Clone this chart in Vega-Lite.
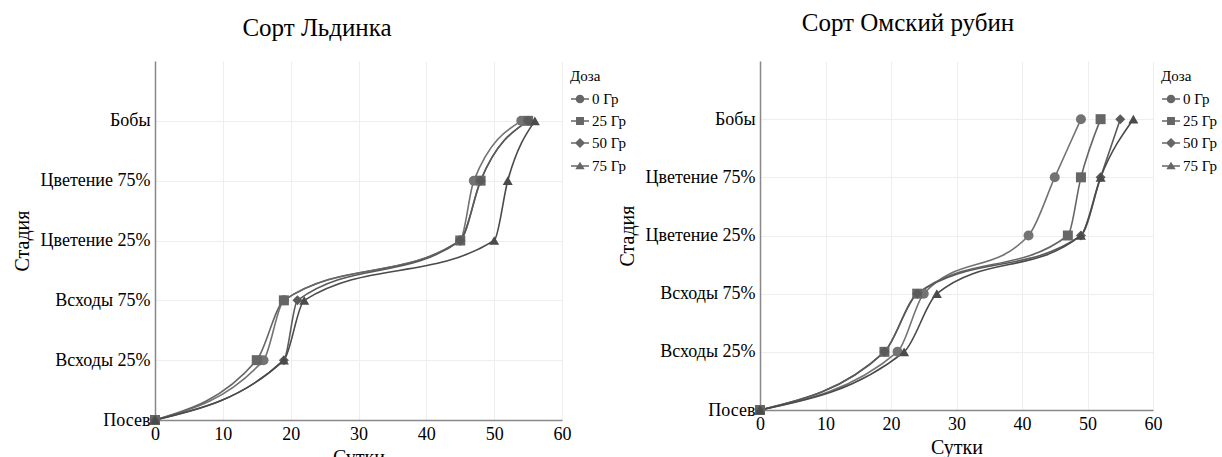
{
  "$schema": "https://vega.github.io/schema/vega-lite/v6.json",
  "padding": {"left": 12, "top": 11, "right": 0, "bottom": 0},
  "background": "white",
  "config": {
    "font": "Liberation Serif",
    "view": {"stroke": null},
    "title": {"font": "Liberation Serif", "fontSize": 25, "fontWeight": "normal", "color": "#000", "offset": 20, "frame": "bounds", "anchor": "middle"},
    "axis": {"labelFont": "Liberation Serif", "titleFont": "Liberation Serif", "labelFontSize": 18, "titleFontSize": 20, "titleFontWeight": "normal", "labelColor": "#000", "titleColor": "#000", "ticks": false, "domainColor": "#888", "domainWidth": 1.5, "gridColor": "#eeeeee", "labelPadding": 5},
    "legend": {"labelFont": "Liberation Serif", "titleFont": "Liberation Serif", "labelFontSize": 15, "titleFontSize": 15, "titleFontWeight": "normal", "labelColor": "#000", "titleColor": "#000"}
  },
  "datasets": {
    "ldinka": [
      {"dose": "0 Гр", "day": 0, "stage": 0}, {"dose": "0 Гр", "day": 16, "stage": 1}, {"dose": "0 Гр", "day": 19, "stage": 2}, {"dose": "0 Гр", "day": 45, "stage": 3}, {"dose": "0 Гр", "day": 47, "stage": 4}, {"dose": "0 Гр", "day": 54, "stage": 5},
      {"dose": "25 Гр", "day": 0, "stage": 0}, {"dose": "25 Гр", "day": 15, "stage": 1}, {"dose": "25 Гр", "day": 19, "stage": 2}, {"dose": "25 Гр", "day": 45, "stage": 3}, {"dose": "25 Гр", "day": 48, "stage": 4}, {"dose": "25 Гр", "day": 55, "stage": 5},
      {"dose": "50 Гр", "day": 0, "stage": 0}, {"dose": "50 Гр", "day": 19, "stage": 1}, {"dose": "50 Гр", "day": 21, "stage": 2}, {"dose": "50 Гр", "day": 45, "stage": 3}, {"dose": "50 Гр", "day": 48, "stage": 4}, {"dose": "50 Гр", "day": 55, "stage": 5},
      {"dose": "75 Гр", "day": 0, "stage": 0}, {"dose": "75 Гр", "day": 19, "stage": 1}, {"dose": "75 Гр", "day": 22, "stage": 2}, {"dose": "75 Гр", "day": 50, "stage": 3}, {"dose": "75 Гр", "day": 52, "stage": 4}, {"dose": "75 Гр", "day": 56, "stage": 5}
    ],
    "omsk": [
      {"dose": "0 Гр", "day": 0, "stage": 0}, {"dose": "0 Гр", "day": 21, "stage": 1}, {"dose": "0 Гр", "day": 25, "stage": 2}, {"dose": "0 Гр", "day": 41, "stage": 3}, {"dose": "0 Гр", "day": 45, "stage": 4}, {"dose": "0 Гр", "day": 49, "stage": 5},
      {"dose": "25 Гр", "day": 0, "stage": 0}, {"dose": "25 Гр", "day": 19, "stage": 1}, {"dose": "25 Гр", "day": 24, "stage": 2}, {"dose": "25 Гр", "day": 47, "stage": 3}, {"dose": "25 Гр", "day": 49, "stage": 4}, {"dose": "25 Гр", "day": 52, "stage": 5},
      {"dose": "50 Гр", "day": 0, "stage": 0}, {"dose": "50 Гр", "day": 19, "stage": 1}, {"dose": "50 Гр", "day": 24, "stage": 2}, {"dose": "50 Гр", "day": 49, "stage": 3}, {"dose": "50 Гр", "day": 52, "stage": 4}, {"dose": "50 Гр", "day": 55, "stage": 5},
      {"dose": "75 Гр", "day": 0, "stage": 0}, {"dose": "75 Гр", "day": 22, "stage": 1}, {"dose": "75 Гр", "day": 27, "stage": 2}, {"dose": "75 Гр", "day": 49, "stage": 3}, {"dose": "75 Гр", "day": 52, "stage": 4}, {"dose": "75 Гр", "day": 57, "stage": 5}
    ]
  },
  "bounds": "flush",
  "spacing": 198,
  "resolve": {"scale": {"color": "independent", "shape": "independent"}, "legend": {"shape": "independent"}},
  "hconcat": [
    {
      "data": {"name": "ldinka"},
      "title": {"text": "Сорт Льдинка", "dx": -6},
      "width": 407,
      "height": 359,
      "resolve": {"scale": {"shape": "independent"}},
      "encoding": {
        "x": {"field": "day", "type": "quantitative", "title": "Сутки", "scale": {"domain": [0, 60], "nice": false}, "axis": {"values": [0, 10, 20, 30, 40, 50, 60], "labelFlush": false}},
        "y": {"field": "stage", "type": "quantitative", "title": "Стадия", "scale": {"domain": [0, 6], "nice": false}, "axis": {"values": [0, 1, 2, 3, 4, 5], "labelExpr": "['Посев','Всходы 25%','Всходы 75%','Цветение 25%','Цветение 75%','Бобы'][datum.value]", "titlePadding": 8}}
      },
      "layer": [
        {"mark": {"type": "line", "interpolate": "monotone", "strokeWidth": 1.6},
         "encoding": {"color": {"field": "dose", "type": "nominal", "sort": ["0 Гр", "25 Гр", "50 Гр", "75 Гр"], "scale": {"range": ["#737373", "#666666", "#5a5a5a", "#4a4a4a"]}, "legend": null}}},
        {"mark": {"type": "point", "filled": true, "opacity": 1, "size": 100},
         "encoding": {
           "color": {"field": "dose", "type": "nominal", "sort": ["0 Гр", "25 Гр", "50 Гр", "75 Гр"], "scale": {"range": ["#737373", "#666666", "#5a5a5a", "#4a4a4a"]}, "legend": null},
           "shape": {"field": "dose", "type": "nominal", "sort": ["0 Гр", "25 Гр", "50 Гр", "75 Гр"], "scale": {"range": ["circle", "square", "diamond", "triangle-up"]}, "legend": null}}},
        {"mark": {"type": "point", "filled": true, "opacity": 0, "color": "#666666"},
         "encoding": {
           "shape": {"field": "dose", "type": "nominal", "sort": ["0 Гр", "25 Гр", "50 Гр", "75 Гр"], "title": "Доза",
             "scale": {"range": ["M-1,-0.09H1V0.09H-1ZM0.48,0A0.48,0.48,0,1,1,-0.48,0A0.48,0.48,0,1,1,0.48,0Z", "M-1,-0.09H1V0.09H-1ZM-0.44,-0.44H0.44V0.44H-0.44Z", "M-1,-0.09H1V0.09H-1ZM0,-0.56L0.56,0L0,0.56L-0.56,0Z", "M-1,-0.09H1V0.09H-1ZM0,-0.46L0.52,0.36L-0.52,0.36Z"]},
             "legend": {"symbolSize": 324, "rowPadding": 4, "offset": 0, "padding": 8, "labelOffset": 2, "symbolOpacity": 1, "symbolFillColor": "#666666"}}}}
      ]
    },
    {
      "data": {"name": "omsk"},
      "title": {"text": "Сорт Омский рубин", "offset": 25, "dx": -13},
      "width": 393,
      "height": 349,
      "resolve": {"scale": {"shape": "independent"}},
      "encoding": {
        "x": {"field": "day", "type": "quantitative", "title": "Сутки", "scale": {"domain": [0, 60], "nice": false}, "axis": {"values": [0, 10, 20, 30, 40, 50, 60], "labelFlush": false}},
        "y": {"field": "stage", "type": "quantitative", "title": "Стадия", "scale": {"domain": [0, 6], "nice": false}, "axis": {"values": [0, 1, 2, 3, 4, 5], "labelExpr": "['Посев','Всходы 25%','Всходы 75%','Цветение 25%','Цветение 75%','Бобы'][datum.value]", "titlePadding": 8}}
      },
      "layer": [
        {"mark": {"type": "line", "interpolate": "monotone", "strokeWidth": 1.6},
         "encoding": {"color": {"field": "dose", "type": "nominal", "sort": ["0 Гр", "25 Гр", "50 Гр", "75 Гр"], "scale": {"range": ["#737373", "#666666", "#5a5a5a", "#4a4a4a"]}, "legend": null}}},
        {"mark": {"type": "point", "filled": true, "opacity": 1, "size": 100},
         "encoding": {
           "color": {"field": "dose", "type": "nominal", "sort": ["0 Гр", "25 Гр", "50 Гр", "75 Гр"], "scale": {"range": ["#737373", "#666666", "#5a5a5a", "#4a4a4a"]}, "legend": null},
           "shape": {"field": "dose", "type": "nominal", "sort": ["0 Гр", "25 Гр", "50 Гр", "75 Гр"], "scale": {"range": ["circle", "square", "diamond", "triangle-up"]}, "legend": null}}},
        {"mark": {"type": "point", "filled": true, "opacity": 0, "color": "#666666"},
         "encoding": {
           "shape": {"field": "dose", "type": "nominal", "sort": ["0 Гр", "25 Гр", "50 Гр", "75 Гр"], "title": "Доза",
             "scale": {"range": ["M-1,-0.09H1V0.09H-1ZM0.48,0A0.48,0.48,0,1,1,-0.48,0A0.48,0.48,0,1,1,0.48,0Z", "M-1,-0.09H1V0.09H-1ZM-0.44,-0.44H0.44V0.44H-0.44Z", "M-1,-0.09H1V0.09H-1ZM0,-0.56L0.56,0L0,0.56L-0.56,0Z", "M-1,-0.09H1V0.09H-1ZM0,-0.46L0.52,0.36L-0.52,0.36Z"]},
             "legend": {"symbolSize": 324, "rowPadding": 4, "offset": 0, "padding": 8, "labelOffset": 2, "symbolOpacity": 1, "symbolFillColor": "#666666"}}}}
      ]
    }
  ]
}
